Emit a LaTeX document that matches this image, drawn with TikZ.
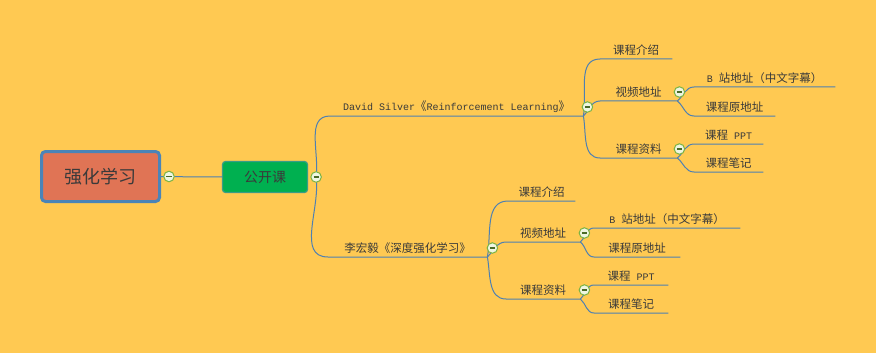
\documentclass[tikz,border=0pt]{standalone}
\usepackage{fontspec}
\setmainfont{Noto Sans CJK SC}
\newfontfamily\latmono{Liberation Mono}
\usepackage{xcolor}
\usetikzlibrary{positioning}
\definecolor{bgyellow}{HTML}{FFC952}
\definecolor{rootfill}{HTML}{E07455}
\definecolor{rootedge}{HTML}{4A84B8}
\definecolor{mainfill}{HTML}{00B050}
\definecolor{mainedge}{HTML}{3A9C86}
\definecolor{branchblue}{HTML}{4E80B2}
\definecolor{knobgreen}{HTML}{7CB342}
\definecolor{knobfill}{HTML}{EEF6E2}
\definecolor{textgray}{HTML}{3A3A3A}
\newcommand{\mtext}[1]{{\latmono\fontsize{10}{12}\selectfont #1}}
\tikzset{
    rootbox/.style={draw=rootedge, line width=3pt, fill=rootfill, rounded corners=4pt,
    minimum width=118pt, minimum height=50pt, inner sep=0pt,
    font=\fontsize{18}{20}\selectfont, text=textgray},
    mainbox/.style={draw=mainedge, line width=1.2pt, fill=mainfill, rounded corners=3pt,
    minimum width=85pt, minimum height=31pt, inner sep=0pt,
    font=\fontsize{14}{16}\selectfont, text=textgray},
    topic/.style={anchor=south west, inner sep=0pt, minimum height=18pt,
    font=\fontsize{11.5}{13}\selectfont, text=textgray},
    branch/.style={draw=branchblue, line width=1pt},
    knob/.style={circle, draw=knobgreen, line width=1pt, fill=knobfill,
    minimum size=10.5pt, inner sep=0pt,
    path picture={\draw[knobgreen!60!black, line width=1.3pt]
        ([xshift=-2.6pt]path picture bounding box.center) --
        ([xshift=2.6pt]path picture bounding box.center);}},
}

\begin{document}
\begin{tikzpicture}[x=1pt, y=-1pt]
    \useasboundingbox[fill=bgyellow] (0,0) rectangle (876,353);
    % --- root and main topic ---
    \node[rootbox] (root) at (100.5,176.5) {强化学习};
    \node[mainbox] (gk) at (265,177) {公开课};
    \coordinate (rootx) at ([xshift=8pt]root.east);
    \coordinate (gkx) at ([xshift=8pt]gk.east);
    % --- courses ---
    \node[topic, minimum width=253pt] (ds) at (330,116)
        {\mtext{David Silver}《\mtext{Reinforcement Learning}》};
    \node[topic, minimum width=159pt] (lhy) at (328,257) {李宏毅《深度强化学习》};
    % --- David Silver ---
    \node[topic, minimum width=72pt] (ds1) at (600,59) {课程介绍};
    \node[topic, minimum width=77pt] (ds2) at (600,101) {视频地址};
    \node[topic, minimum width=77pt] (ds3) at (600,158) {课程资料};
    \node[topic, minimum width=141pt] (ds21) at (694,87) {\mtext{B }站地址（中文字幕）};
    \node[topic, minimum width=81pt] (ds22) at (694,116) {课程原地址};
    \node[topic, minimum width=69pt] (ds31) at (694,144) {课程\mtext{ PPT}};
    \node[topic, minimum width=69pt] (ds32) at (694,172) {课程笔记};
    % --- Li Hongyi ---
    \node[topic, minimum width=67pt] (lh1) at (508,201) {课程介绍};
    \node[topic, minimum width=74pt] (lh2) at (506,242) {视频地址};
    \node[topic, minimum width=74pt] (lh3) at (506,299) {课程资料};
    \node[topic, minimum width=146pt] (lh21) at (594,228) {\mtext{B }站地址（中文字幕）};
    \node[topic, minimum width=86pt] (lh22) at (594,257) {课程原地址};
    \node[topic, minimum width=74pt] (lh31) at (594,285) {课程\mtext{ PPT}};
    \node[topic, minimum width=74pt] (lh32) at (594,313) {课程笔记};
    % --- connectors ---
    \draw[branch] (root) -- (gk);
    \draw[branch] (gkx) to[out=82,in=180] (ds.south west) -- (ds.south east);
    \draw[branch] (gkx) to[out=-82,in=180] (lhy.south west) -- (lhy.south east);
    \draw[branch] (ds.south east) to[out=80,in=180] (ds1.south west) -- (ds1.south east);
    \draw[branch] (ds.south east) to[out=45,in=180] (ds2.south west) -- (ds2.south east);
    \draw[branch] (ds.south east) to[out=-80,in=180] (ds3.south west) -- (ds3.south east);
    \draw[branch] (ds2.south east) to[out=40,in=180] (ds21.south west) -- (ds21.south east);
    \draw[branch] (ds2.south east) to[out=-40,in=180] (ds22.south west) -- (ds22.south east);
    \draw[branch] (ds3.south east) to[out=40,in=180] (ds31.south west) -- (ds31.south east);
    \draw[branch] (ds3.south east) to[out=-40,in=180] (ds32.south west) -- (ds32.south east);
    \draw[branch] (lhy.south east) to[out=80,in=180] (lh1.south west) -- (lh1.south east);
    \draw[branch] (lhy.south east) to[out=45,in=180] (lh2.south west) -- (lh2.south east);
    \draw[branch] (lhy.south east) to[out=-80,in=180] (lh3.south west) -- (lh3.south east);
    \draw[branch] (lh2.south east) to[out=40,in=180] (lh21.south west) -- (lh21.south east);
    \draw[branch] (lh2.south east) to[out=-40,in=180] (lh22.south west) -- (lh22.south east);
    \draw[branch] (lh3.south east) to[out=40,in=180] (lh31.south west) -- (lh31.south east);
    \draw[branch] (lh3.south east) to[out=-40,in=180] (lh32.south west) -- (lh32.south east);
    % --- collapse knobs ---
    \node[knob] (rootk) at (rootx) {};
    \node[knob] (gkk) at (gkx) {};
    \node[knob] (dsk) at ([xshift=4pt,yshift=9pt]ds.south east) {};
    \node[knob] (lhyk) at ([xshift=5pt,yshift=9pt]lhy.south east) {};
    \node[knob] (ds2k) at ([xshift=2pt,yshift=9pt]ds2.south east) {};
    \node[knob] (ds3k) at ([xshift=2pt,yshift=9pt]ds3.south east) {};
    \node[knob] (lh2k) at ([xshift=4pt,yshift=9pt]lh2.south east) {};
    \node[knob] (lh3k) at ([xshift=4pt,yshift=9pt]lh3.south east) {};
\end{tikzpicture}
\end{document}
